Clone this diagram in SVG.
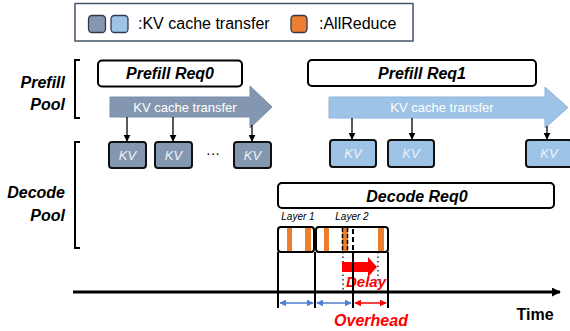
<svg xmlns="http://www.w3.org/2000/svg" width="570" height="331" viewBox="0 0 570 331">
<defs>
<style>
.t{font-family:"Liberation Sans",Arial,sans-serif}
.bi{font-weight:bold;font-style:italic}
.box{fill:#fff;stroke:#000;stroke-width:2}
.kvd{fill:#8497B0;stroke:#111;stroke-width:2}
.kvl{fill:#9DC3E6;stroke:#111;stroke-width:2}
.kvt{font-family:"Liberation Sans",Arial,sans-serif;font-style:italic;font-size:13px;fill:#EEF2F8;text-anchor:middle}
.ln{stroke:#000;stroke-width:1.3;fill:none}
.or{fill:#ED7D31}
.br{stroke:#000;stroke-width:2;fill:none}
</style>
<marker id="ah" viewBox="0 0 10 10" refX="9" refY="5" markerWidth="7" markerHeight="7" markerUnits="userSpaceOnUse" orient="auto"><path d="M0,0L10,5L0,10z" fill="#000"/></marker>
<marker id="ab" viewBox="0 0 10 10" refX="9" refY="5" markerWidth="7" markerHeight="7" markerUnits="userSpaceOnUse" orient="auto-start-reverse"><path d="M0,0L10,5L0,10z" fill="#4F7FD0"/></marker>
<marker id="ar" viewBox="0 0 10 10" refX="9" refY="5" markerWidth="7" markerHeight="7" markerUnits="userSpaceOnUse" orient="auto-start-reverse"><path d="M0,0L10,5L0,10z" fill="#FF0000"/></marker>
<marker id="at" viewBox="0 0 10 10" refX="9" refY="5" markerWidth="9" markerHeight="9" markerUnits="userSpaceOnUse" orient="auto"><path d="M0,0L10,5L0,10z" fill="#000"/></marker>
</defs>
<rect width="570" height="331" fill="#fff"/>

<g id="legend">
<rect x="75" y="3.5" width="338" height="37.5" fill="#fff" stroke="#44546A" stroke-width="1.5"/>
<rect x="88.5" y="15.5" width="17" height="17" rx="3.5" fill="#8497B0" stroke="#2F3B4C" stroke-width="1.3"/>
<rect x="111" y="15.5" width="17" height="17" rx="3.5" fill="#9DC3E6" stroke="#2F3B4C" stroke-width="1.3"/>
<text class="t" x="138" y="29" font-size="16">:KV cache transfer</text>
<rect x="291" y="15.5" width="16" height="17" rx="3.5" fill="#ED7D31" stroke="#2F3B4C" stroke-width="1.3"/>
<text class="t" x="319" y="29" font-size="16">:AllReduce</text>
</g>

<g id="pool-labels">
<text class="t bi" x="65" y="88" font-size="16" text-anchor="end">Prefill</text>
<text class="t bi" x="65" y="110" font-size="16" text-anchor="end">Pool</text>
<path class="br" d="M80,60H75V118H80"/>
<text class="t bi" x="65" y="198" font-size="16" text-anchor="end">Decode</text>
<text class="t bi" x="65" y="221" font-size="16" text-anchor="end">Pool</text>
<path class="br" d="M80,142H75V248H80"/>
</g>

<g id="prefill-req0">
<rect class="box" x="98" y="60.5" width="144" height="26" rx="4"/>
<text class="t bi" x="170" y="79" font-size="16" text-anchor="middle">Prefill Req0</text>
</g>
<g id="prefill-req1">
<rect class="box" x="308" y="60" width="228" height="26" rx="4"/>
<text class="t bi" x="422" y="79" font-size="16" text-anchor="middle">Prefill Req1</text>
</g>

<g id="kv-arrow-0">
<path d="M110,97H250V86L272,107L250,128V117H110Z" fill="#8497B0" stroke="#7A8DA8" stroke-width="1"/>
<text class="t" x="185" y="112" font-size="13" fill="#fff" text-anchor="middle">KV cache transfer</text>
</g>
<g id="kv-arrow-1">
<path d="M329,97H545V87L568,107.5L545,128V118H329Z" fill="#9DC3E6" stroke="#8FB5DB" stroke-width="1"/>
<text class="t" x="442" y="112" font-size="13" fill="#fff" text-anchor="middle">KV cache transfer</text>
</g>

<g id="kv-d1"><rect class="kvd" x="109" y="142" width="37" height="26" rx="3"/><text class="kvt" x="127.5" y="160">KV</text></g>
<g id="kv-d2"><rect class="kvd" x="155" y="142" width="37" height="26" rx="3"/><text class="kvt" x="173.5" y="160">KV</text></g>
<g id="kv-dots"><text class="t" x="213" y="158" font-size="14" text-anchor="middle">···</text></g>
<g id="kv-d3"><rect class="kvd" x="234" y="142" width="37" height="26" rx="3"/><text class="kvt" x="252.5" y="160">KV</text></g>
<g id="kv-l1"><rect class="kvl" x="330" y="140" width="46" height="27" rx="3"/><text class="kvt" x="353" y="158">KV</text></g>
<g id="kv-l2"><rect class="kvl" x="388" y="140" width="46" height="27" rx="3"/><text class="kvt" x="411" y="158">KV</text></g>
<g id="kv-l3"><rect class="kvl" x="526" y="140" width="46" height="27" rx="3"/><text class="kvt" x="549" y="158">KV</text></g>

<g id="decode-req0">
<rect class="box" x="278" y="183" width="276" height="25" rx="4"/>
<text class="t bi" x="417" y="202" font-size="16" text-anchor="middle">Decode Req0</text>
</g>

<g id="layers">
<text class="t" x="298" y="220" font-size="10" font-style="italic" text-anchor="middle">Layer 1</text>
<text class="t" x="352" y="220" font-size="10" font-style="italic" text-anchor="middle">Layer 2</text>
<rect class="or" x="287" y="228" width="5" height="23"/>
<rect class="or" x="305" y="228" width="6" height="23"/>
<rect class="or" x="324" y="228" width="5" height="23"/>
<rect class="or" x="342" y="228" width="6" height="23"/>
<path d="M342.5,228V251M347.5,228V251" stroke="#000" stroke-width="1.5" stroke-dasharray="4,2" fill="none"/>
<rect class="or" x="378" y="228" width="6" height="23"/>
<rect x="278" y="227" width="36" height="25" rx="3" fill="none" stroke="#000" stroke-width="2"/>
<rect x="316" y="227" width="72" height="25" rx="3" fill="none" stroke="#000" stroke-width="2"/>
<path d="M353,229V252" stroke="#000" stroke-width="2" stroke-dasharray="5,3" fill="none"/>
</g>

<g id="delay">
<path d="M343,252V291M378,252V284" stroke="#000" stroke-width="1.2" stroke-dasharray="1.5,3" fill="none"/>
<path d="M342,262H368V257L377,267L368,277V272H342Z" fill="#FF0000"/>
<text class="t bi" x="366" y="287" font-size="15" fill="#FF0000" text-anchor="middle">Delay</text>
</g>

<g id="connectors">
<line class="ln" x1="127" y1="117" x2="127" y2="141" marker-end="url(#ah)"/>
<line class="ln" x1="173" y1="117" x2="173" y2="141" marker-end="url(#ah)"/>
<line class="ln" x1="252" y1="125" x2="252" y2="141" marker-end="url(#ah)"/>
<line class="ln" x1="352" y1="118" x2="352" y2="139" marker-end="url(#ah)"/>
<line class="ln" x1="412" y1="118" x2="412" y2="139" marker-end="url(#ah)"/>
<line class="ln" x1="547" y1="126" x2="547" y2="139" marker-end="url(#ah)"/>
<line x1="73" y1="292" x2="560" y2="292" stroke="#000" stroke-width="3" marker-end="url(#at)"/>
<path d="M278,252V308M315,252V308M353,252V308M388,252V308" stroke="#000" stroke-width="2" fill="none"/>
<line x1="280" y1="303" x2="313" y2="303" stroke="#4F7FD0" stroke-width="1.5" marker-start="url(#ab)" marker-end="url(#ab)"/>
<line x1="317" y1="303" x2="351" y2="303" stroke="#4F7FD0" stroke-width="1.5" marker-start="url(#ab)" marker-end="url(#ab)"/>
<line x1="355" y1="303" x2="386" y2="303" stroke="#FF0000" stroke-width="1.5" marker-start="url(#ar)" marker-end="url(#ar)"/>
</g>

<g id="labels">
<text class="t bi" x="371" y="326" font-size="16" fill="#FF0000" text-anchor="middle">Overhead</text>
<text class="t" x="535" y="320" font-size="16" font-weight="bold" text-anchor="middle">Time</text>
</g>
</svg>
